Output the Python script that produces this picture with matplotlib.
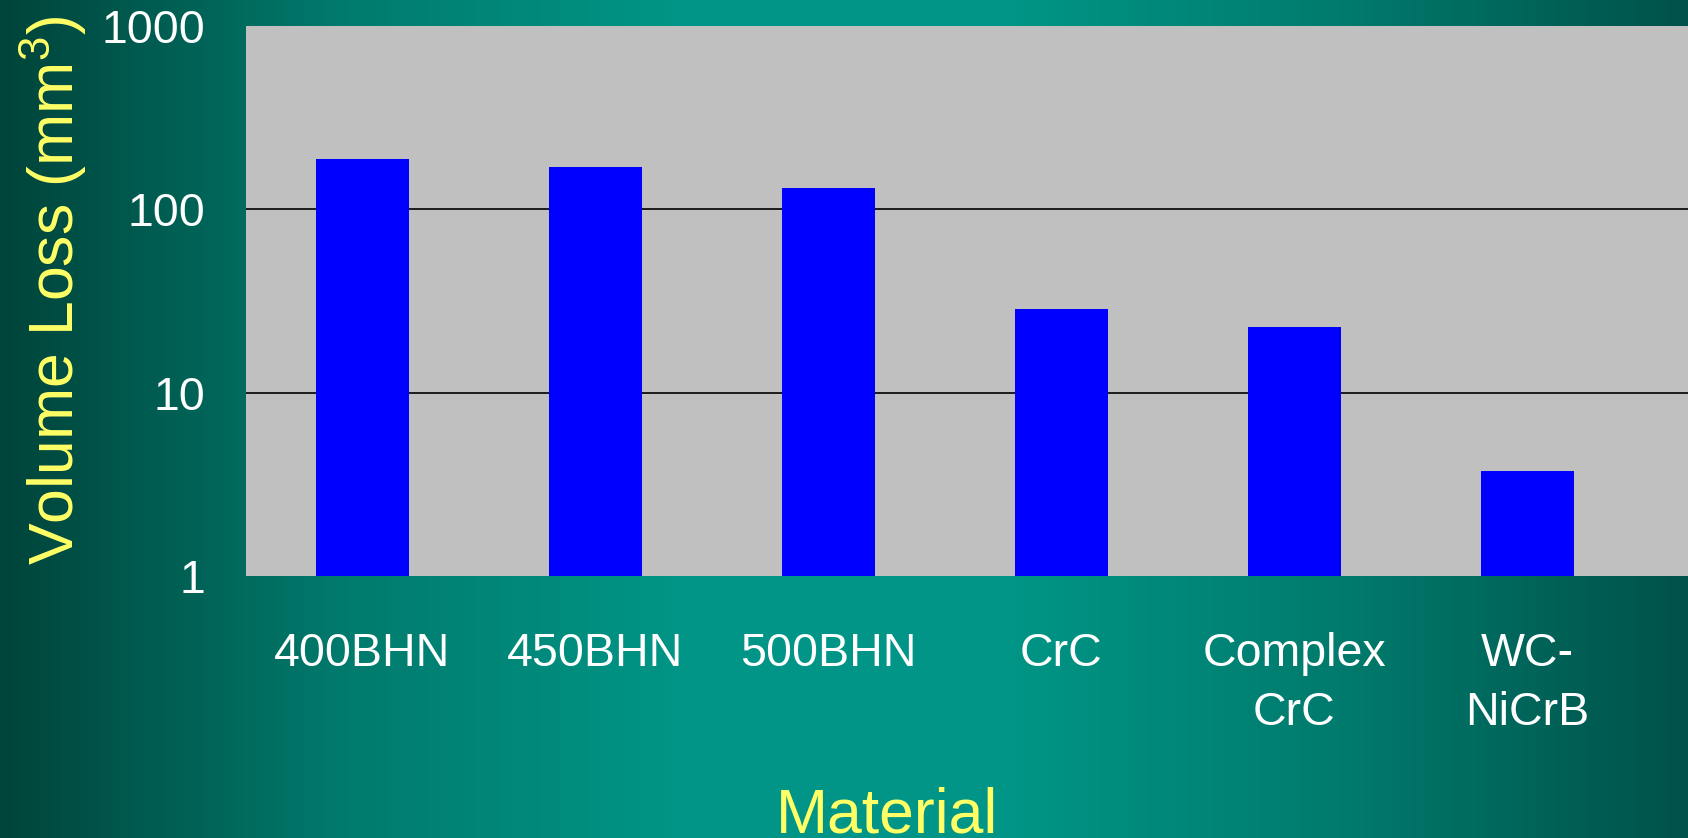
import numpy as np
import matplotlib.pyplot as plt
from matplotlib.colors import LinearSegmentedColormap

plt.rcParams['font.family'] = ['Liberation Sans', 'DejaVu Sans']
plt.rcParams['mathtext.fontset'] = 'custom'
plt.rcParams['mathtext.rm'] = 'Liberation Sans'

# datos
materiales = ['400BHN', '450BHN', '500BHN', 'CrC', 'Complex\nCrC', 'WC-\nNiCrB']
perdida_volumen = [189, 171, 130, 28.6, 22.7, 3.75]
ticks_y = [1, 10, 100, 1000]

fig = plt.figure(figsize=(16.88, 8.38), dpi=100)

# fondo con degradado horizontal
fondo = fig.add_axes([0, 0, 1, 1], zorder=-10)
cmap_fondo = LinearSegmentedColormap.from_list(
    'fondo', ['#00443b', '#007a6c', '#009586', '#009586', '#007a6c', '#00524a'])
fondo.imshow(np.linspace(0, 1, 512)[None, :], aspect='auto', cmap=cmap_fondo,
             extent=[0, 1, 0, 1])
fondo.axis('off')

ax = fig.add_axes([246 / 1688, 1 - 576 / 838, 1 - 246 / 1688, 550 / 838])
ax.set_facecolor('#c0c0c0')
x = np.arange(len(materiales))
ax.bar(x, perdida_volumen, width=0.40, color='#0000ff', zorder=3)
ax.set_yscale('log')
ax.set_ylim(1, 1000)
ax.set_xlim(-0.5, 5.69)
ax.set_yticks(ticks_y)
ax.set_yticklabels([str(t) for t in ticks_y])
ax.minorticks_off()
ax.set_xticks(x)
ax.set_xticklabels(materiales, linespacing=1.45)
ax.tick_params(axis='both', length=0, colors='white', labelsize=33.5)
ax.tick_params(axis='y', pad=29)
ax.tick_params(axis='x', pad=40)
# lineas de cuadricula solo en 10 y 100
for t in ticks_y[1:-1]:
    ax.axhline(t, color='black', linewidth=1.2, zorder=1)
for s in ax.spines.values():
    s.set_visible(False)

fig.text(887 / 1688, 1 - 832 / 838, 'Material', color='#ffff66',
         fontsize=45, ha='center', va='baseline')
fig.text(17 / 1688, 1 - 290 / 838, 'Volume Loss (mm$^3$)', color='#ffff66',
         fontsize=45, rotation=90, ha='left', va='center')

fig.savefig('out.png', dpi=100)
